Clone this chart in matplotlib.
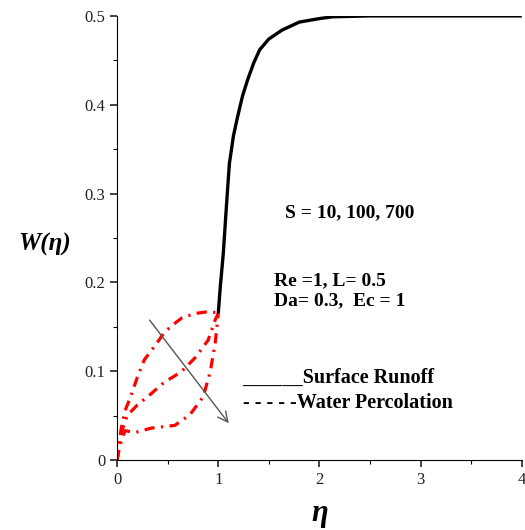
import matplotlib.pyplot as plt
import numpy as np
from matplotlib.ticker import MultipleLocator

# Surface runoff (solid black)
eta_runoff = [1.0, 1.02, 1.05, 1.08, 1.11, 1.15, 1.19, 1.24, 1.29, 1.35, 1.41, 1.50, 1.63, 1.80, 2.0, 2.13, 2.5, 3.0, 3.5, 4.0]
w_runoff = [0.165, 0.195, 0.233, 0.285, 0.334, 0.365, 0.386, 0.410, 0.428, 0.447, 0.462, 0.474, 0.484, 0.493, 0.497, 0.499, 0.5, 0.5, 0.5, 0.5]

# Water percolation (red dash-dot), S = 10, 100, 700
eta_upper = [0.0, 0.04, 0.08, 0.13, 0.2, 0.27, 0.37, 0.47, 0.56, 0.64, 0.77, 0.9, 0.985, 1.0]
w_upper = [0.0, 0.035, 0.056, 0.07, 0.093, 0.113, 0.128, 0.144, 0.153, 0.16, 0.165, 0.167, 0.166, 0.165]

eta_mid = [0.0, 0.04, 0.1, 0.2, 0.34, 0.47, 0.56, 0.64, 0.77, 0.9, 0.97, 1.0]
w_mid = [0.0, 0.03, 0.05, 0.062, 0.075, 0.088, 0.094, 0.1, 0.115, 0.135, 0.158, 0.165]

eta_lower = [0.0, 0.02, 0.05, 0.08, 0.18, 0.34, 0.57, 0.72, 0.85, 0.92, 0.97, 1.0]
w_lower = [0.0, 0.012, 0.025, 0.033, 0.031, 0.036, 0.039, 0.051, 0.071, 0.099, 0.132, 0.165]

plt.rcParams['font.family'] = 'Liberation Serif'

fig = plt.figure(figsize=(5.25, 5.30), dpi=100)
ax = fig.add_axes([0.223, 0.132, 0.771, 0.838])

dash = (0, (3.2, 2.0, 0.7, 2.0))
for xs, ys in [(eta_upper, w_upper), (eta_mid, w_mid), (eta_lower, w_lower)]:
    ax.plot(xs, ys, color='#ff0000', lw=2.3, linestyle=dash)
ax.plot(eta_runoff, w_runoff, color='black', lw=2.4, solid_capstyle='butt')

ax.annotate('', xy=(1.12, 0.039), xytext=(0.305, 0.16),
            arrowprops=dict(arrowstyle='->', color='#555555', lw=1.0, mutation_scale=18))

ax.set_xlim(0, 4)
ax.set_ylim(0, 0.5)
ax.xaxis.set_minor_locator(MultipleLocator(0.5))
ax.yaxis.set_minor_locator(MultipleLocator(0.05))
ax.set_yticks([0, 0.1, 0.2, 0.3, 0.4, 0.5])
ax.set_yticklabels(['0', '0.1', '0.2', '0.3', '0.4', '0.5'])
ax.set_xticks([0, 1, 2, 3, 4])
ax.set_xticklabels(['0', '1', '2', '3', '4'])
ax.tick_params(which='major', direction='out', length=5, width=1.2, labelsize=12, colors='#222222')
ax.tick_params(which='minor', direction='out', length=3, width=0.8)
ax.spines['top'].set_visible(False)
ax.spines['right'].set_visible(False)

ax.set_xlabel('η', fontsize=22, fontweight='bold', style='italic', labelpad=8)
ax.set_ylabel('W(η)', fontsize=18, fontweight='bold', style='italic', rotation=0)
ax.yaxis.set_label_coords(-0.178, 0.46)

ax.text(2.30, 0.278, 'S = 10, 100, 700', fontsize=14, fontweight='bold', ha='center', va='center')
ax.text(1.55, 0.202, 'Re =1, L= 0.5', fontsize=14, fontweight='bold', ha='left', va='center')
ax.text(1.55, 0.179, 'Da= 0.3,  Ec = 1', fontsize=14, fontweight='bold', ha='left', va='center')
ax.text(1.24, 0.092, '______Surface Runoff', fontsize=14.5, fontweight='bold', ha='left', va='center')
ax.text(1.24, 0.064, '- - - - -Water Percolation', fontsize=14.5, fontweight='bold', ha='left', va='center')

fig.savefig('out.png', dpi=100)
